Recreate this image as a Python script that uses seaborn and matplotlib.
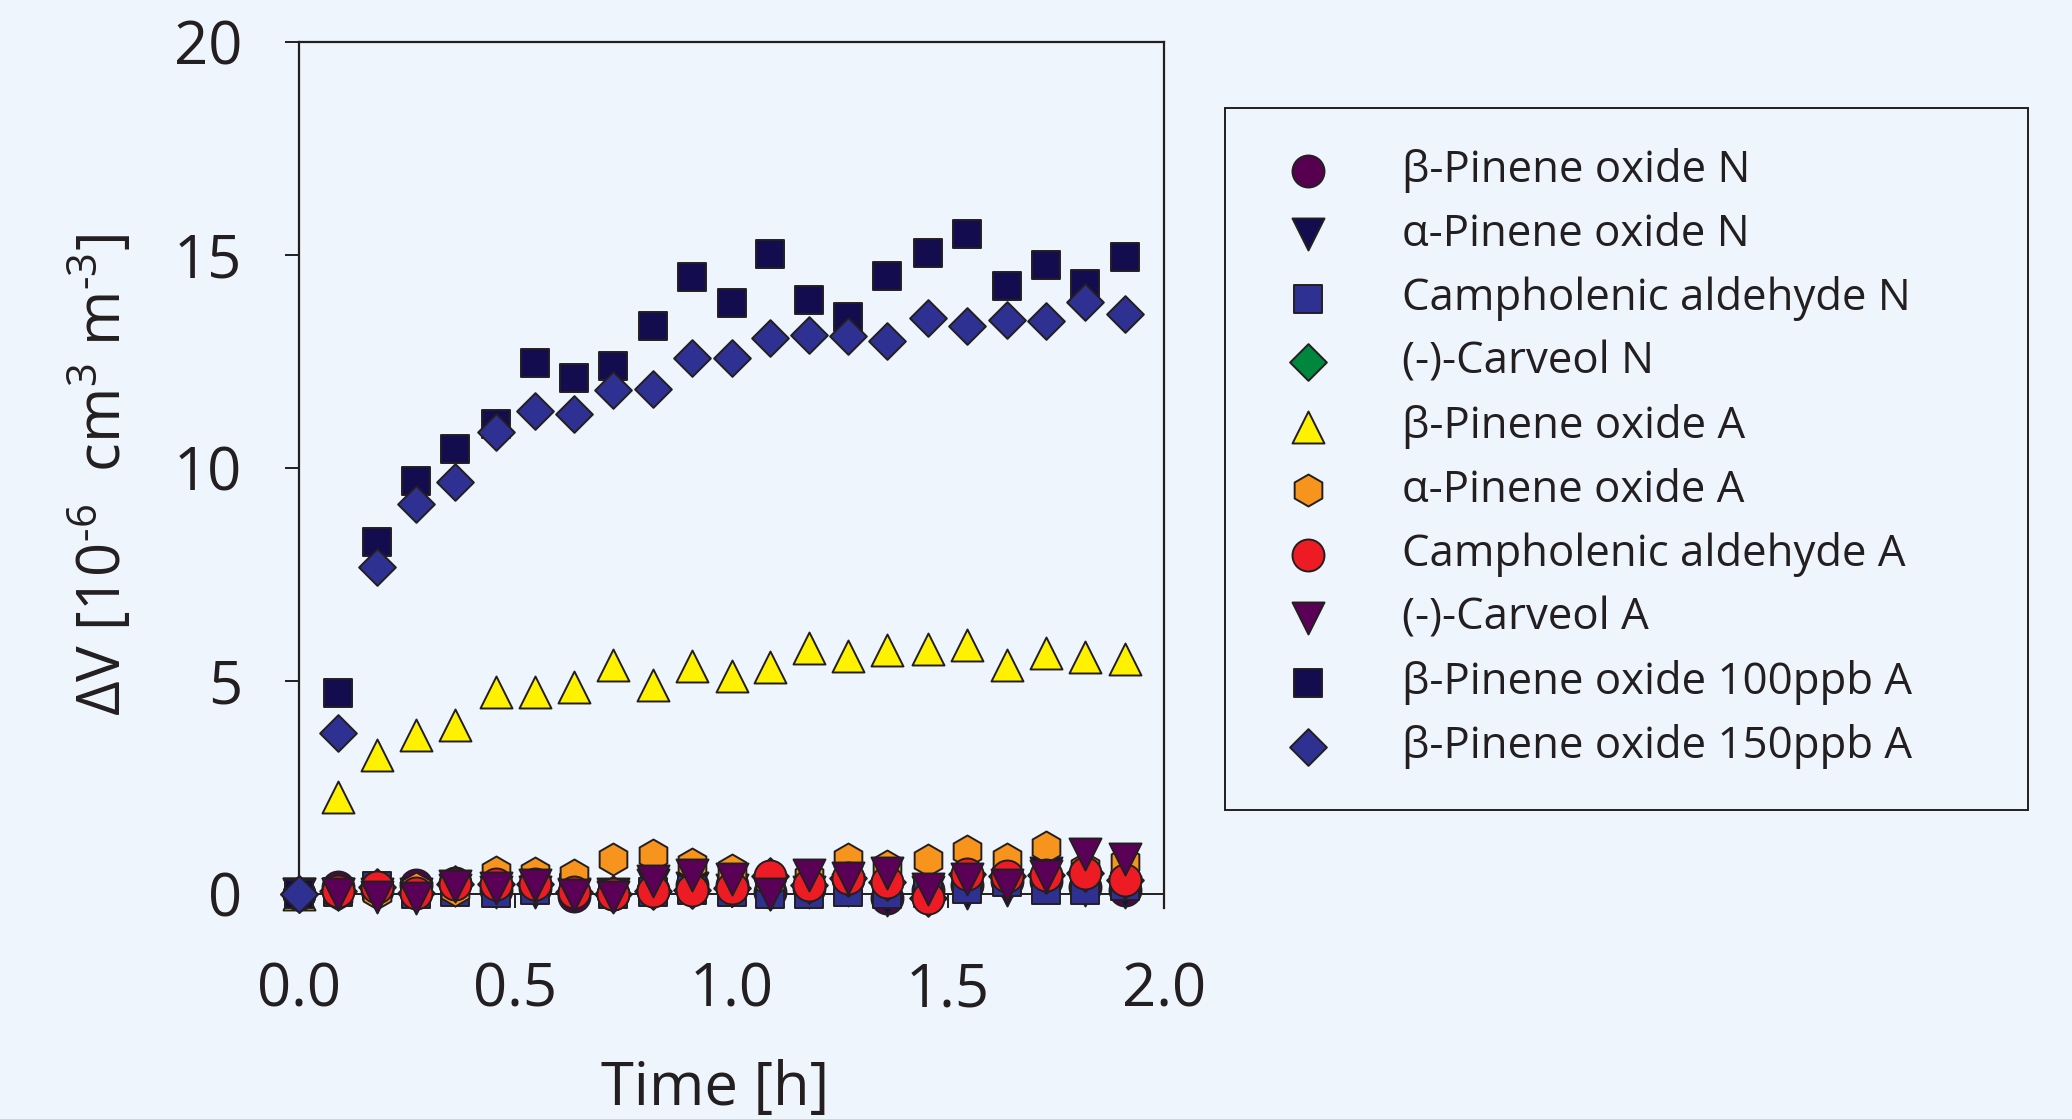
import matplotlib
matplotlib.use('Agg')
import matplotlib.pyplot as plt
import seaborn as sns

# Time points [h]
time_h = [0.0, 0.09, 0.18, 0.27, 0.36, 0.455, 0.545, 0.636, 0.727, 0.818, 0.909,
          1.0, 1.09, 1.18, 1.27, 1.36, 1.455, 1.545, 1.636, 1.727, 1.818, 1.91]

# dV [1e-6 cm3 m-3] per series
beta_n = [0, 0.17, 0.1, 0.2, 0.25, 0.1, 0.15, -0.05, 0.0, 0.1, 0.2,
          0.2, 0.05, 0.15, 0.35, -0.1, 0.1, 0.2, 0.3, 0.3, 0.16, 0.1]
alpha_n = [0, 0.0, 0.0, 0.0, 0.1, 0.05, 0.05, 0.0, 0.0, 0.2, 0.15,
           0.1, 0.0, 0.04, 0.1, -0.15, 0.05, 0.02, 0.1, 0.5, 0.1, 0.05]
campho_n = [0, 0.05, 0.18, 0.0, 0.05, 0.02, 0.1, 0.15, 0.0, 0.05, 0.1,
            0.05, 0.0, 0.0, 0.05, 0.0, 0.03, 0.12, 0.28, 0.1, 0.1, 0.19]
# carveol N is hidden behind the other markers in the original
carveol_n = [0, 0.07, 0.16, 0.03, 0.23, 0.23, 0.23, 0.05, 0.0, 0.06, 0.1,
             0.15, 0.42, 0.2, 0.38, 0.27, -0.09, 0.47, 0.41, 0.45, 0.48, 0.33]
beta_a = [0, 2.27, 3.26, 3.73, 3.97, 4.75, 4.73, 4.85, 5.37, 4.91, 5.36,
          5.12, 5.32, 5.78, 5.59, 5.72, 5.74, 5.85, 5.38, 5.66, 5.57, 5.51]
alpha_a = [0, 0.0, 0.02, 0.14, 0.1, 0.52, 0.5, 0.44, 0.82, 0.91, 0.7,
           0.56, 0.3, 0.4, 0.81, 0.66, 0.8, 1.0, 0.81, 1.11, 0.6, 0.75]
campho_a = [0, 0.07, 0.16, 0.03, 0.23, 0.23, 0.23, 0.05, 0.0, 0.06, 0.1,
            0.15, 0.42, 0.2, 0.38, 0.27, -0.09, 0.47, 0.41, 0.45, 0.48, 0.33]
carveol_a = [0, 0.0, -0.08, -0.1, 0.18, 0.13, 0.2, -0.03, -0.07, 0.3, 0.45,
             0.35, 0.0, 0.45, 0.37, 0.5, 0.12, 0.36, 0.21, 0.42, 0.93, 0.82]
beta_100 = [0, 4.71, 8.26, 9.69, 10.45, 11.03, 12.46, 12.10, 12.39, 13.33, 14.48,
            13.87, 15.03, 13.94, 13.54, 14.51, 15.05, 15.50, 14.27, 14.77, 14.32, 14.96]
beta_150 = [0, 3.77, 7.68, 9.15, 9.66, 10.84, 11.34, 11.26, 11.83, 11.85, 12.57,
            12.57, 13.04, 13.12, 13.10, 12.97, 13.51, 13.33, 13.47, 13.46, 13.90, 13.62]

labels = ['β-Pinene oxide N', 'α-Pinene oxide N', 'Campholenic aldehyde N',
          '(-)-Carveol N', 'β-Pinene oxide A', 'α-Pinene oxide A',
          'Campholenic aldehyde A', '(-)-Carveol A',
          'β-Pinene oxide 100ppb A', 'β-Pinene oxide 150ppb A']
series = [beta_n, alpha_n, campho_n, carveol_n, beta_a, alpha_a,
          campho_a, carveol_a, beta_100, beta_150]
markers = ['o', 'v', 's', 'D', '^', 'h', 'o', 'v', 's', 'D']
colors = ['#570050', '#130C4F', '#2E3192', '#00873E', '#FFF200', '#F7941E',
          '#ED1C24', '#5B0057', '#130C4F', '#2E3192']
sizes = [530, 530, 400, 350, 530, 530, 530, 530, 400, 350]

bg = '#EEF5FC'
sns.set_style('ticks')
plt.rcParams['font.family'] = ['Open Sans', 'DejaVu Sans']
plt.rcParams['mathtext.fontset'] = 'custom'
plt.rcParams['mathtext.rm'] = 'Open Sans'
plt.rcParams['mathtext.default'] = 'regular'

fig = plt.figure(figsize=(20.72, 11.19), dpi=100, facecolor=bg)
ax = fig.add_axes([0.1443, 0.1886, 0.4175, 0.7739])
ax.set_facecolor(bg)

for i, (vals, lab) in enumerate(zip(series, labels)):
    sns.scatterplot(x=time_h, y=vals, marker=markers[i], s=sizes[i],
                    color=colors[i], edgecolor='#231F20', linewidth=1.4,
                    label=lab, ax=ax, zorder=3 + i, clip_on=False)

ax.set_xlim(0, 2.0)
ax.set_ylim(-0.33, 20)
ax.set_xticks([0.0, 0.5, 1.0, 1.5, 2.0])
ax.set_xticklabels(['0.0', '0.5', '1.0', '1.5', '2.0'])
ax.set_yticks([0, 5, 10, 15, 20])

for sp in ax.spines.values():
    sp.set_color('#231F20')
    sp.set_linewidth(1.6)
ax.spines['bottom'].set_position(('data', 0))
ax.spines['bottom'].set_linewidth(1.4)

ax.tick_params(axis='both', direction='out', length=10, width=1.4,
               color='#231F20', labelsize=43, labelcolor='#231F20')
ax.tick_params(axis='x', pad=38)
ax.tick_params(axis='y', pad=31)

ax.set_xlabel('Time [h]', fontsize=43, color='#231F20')
ax.xaxis.set_label_coords(0.481, -0.174)
ax.xaxis.label.set_va('top')
ax.set_ylabel('$\\Delta$V [10$^{\u2010 6}$  cm$^{3}$ m$^{\u20103}$]', fontsize=43, color='#231F20')
ax.yaxis.set_label_coords(-0.19, 0.5)

leg = ax.legend(loc='upper left', bbox_to_anchor=(0.591, 0.287, 0.388, 0.6165),
                bbox_transform=fig.transFigure, mode='expand', borderaxespad=0,
                fontsize=31.5, frameon=True, fancybox=False, edgecolor='#231F20',
                facecolor=bg, framealpha=1, borderpad=0.92, labelspacing=0.44,
                handlelength=1.96, handletextpad=1.17, markerscale=1.0)
leg.get_frame().set_linewidth(1.4)
for t in leg.get_texts():
    t.set_color('#231F20')

fig.savefig('out.png', dpi=100, facecolor=bg)
